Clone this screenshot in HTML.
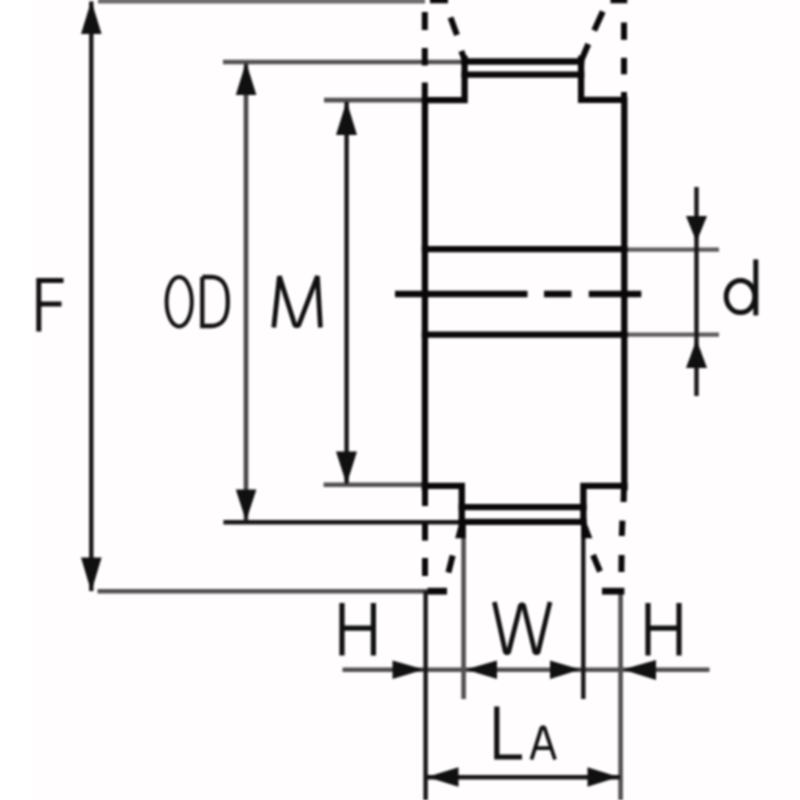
<!DOCTYPE html>
<html><head><meta charset="utf-8"><title>Pulley dimensions</title>
<style>
html,body{margin:0;padding:0;background:#fffdfe;width:800px;height:800px;overflow:hidden;font-family:"Liberation Sans",sans-serif;}
svg{display:block;position:absolute;left:-10px;top:-10px;filter:blur(0.8px);}
</style></head><body>
<svg width="820" height="820" viewBox="-10 -10 820 820">
<rect x="-10" y="-10" width="820" height="820" fill="#fffdfe"/>
<rect x="-10" y="-10" width="42" height="820" fill="#ffffff"/>
<!-- extension lines (gray) -->
<line x1="98" y1="1" x2="425" y2="1" stroke="#6a6869" stroke-width="5"/>
<g stroke="#524f51" stroke-width="4.6" fill="none">
  <line x1="97.5" y1="591.3" x2="428" y2="591.3"/>
  <line x1="223" y1="62" x2="466" y2="62"/>
  <line x1="324" y1="100.1" x2="425" y2="100.1"/>
  <line x1="323.6" y1="484.8" x2="425" y2="484.8"/>
  <line x1="463.6" y1="524" x2="463.6" y2="699"/>
  <line x1="620.6" y1="591" x2="620.6" y2="800"/>
  <line x1="342.5" y1="669.7" x2="709.5" y2="669.7"/>
</g>
<g stroke="#5e5a5c" stroke-width="4.2" fill="none">
  <line x1="626" y1="249.6" x2="719" y2="249.6"/>
  <line x1="626" y1="334.6" x2="719" y2="334.6"/>
</g>
<!-- dimension lines (dark) -->
<g stroke="#171516" stroke-width="4.4" fill="none">
  <line x1="91.3" y1="1.5" x2="91.3" y2="591"/>
  <line x1="346.6" y1="102" x2="346.6" y2="483.5"/>
  <line x1="696.5" y1="187" x2="696.5" y2="396"/>
  <line x1="425.6" y1="591" x2="425.6" y2="800"/>
  <line x1="426" y1="777.3" x2="620" y2="777.3"/>
  <line x1="223.4" y1="522.3" x2="463" y2="522.3"/>
  <line x1="583.3" y1="524" x2="583.3" y2="699"/>
</g>
<line x1="246" y1="63" x2="246" y2="520" stroke="#4a4648" stroke-width="4.6"/>
<!-- arrowheads -->
<g fill="#111011">
  <polygon points="91.3,0.5 81,34 101.6,34"/>
  <polygon points="91.3,592 81,557.5 101.6,557.5"/>
  <polygon points="246,62 235.8,95 256.4,95"/>
  <polygon points="246,521 235.8,489.6 256.4,489.6"/>
  <polygon points="346.6,101 336,135 357,135"/>
  <polygon points="346.6,484.5 336,451.5 357,451.5"/>
  <polygon points="696.5,242 686,216 707,216"/>
  <polygon points="696.5,339.6 686,368 707,368"/>
  <polygon points="424,669.6 392.5,660.5 392.5,679"/>
  <polygon points="465.6,669.6 497,660.5 497,679"/>
  <polygon points="580.4,669.6 550,660.5 550,679"/>
  <polygon points="622.7,669.6 656,660 656,680"/>
  <polygon points="427,777 458.5,767.3 458.5,786.8"/>
  <polygon points="618.6,777 587.5,767.3 587.5,786.8"/>
</g>
<!-- body (thick) -->
<g stroke="#0a0809" stroke-width="6.3" fill="none" stroke-linejoin="miter" stroke-linecap="square">
  <polyline points="424.9,487 424.9,100.2 464.6,100.2 464.6,59"/>
  <polyline points="624.3,487 624.3,99.8 581.1,99.8 581.1,59"/>
  <line x1="464.6" y1="61.5" x2="581.1" y2="61.5"/>
  <line x1="464.6" y1="74.6" x2="581.1" y2="74.6"/>
  <polyline points="424.9,487 424.9,485.8 461.8,485.8 461.8,522"/>
  <polyline points="624.3,487 624.3,485.9 583.4,485.9 583.4,522"/>
  <line x1="461.8" y1="507.2" x2="583.4" y2="507.2"/>
  <line x1="461.8" y1="521.9" x2="583.4" y2="521.9"/>
  <line x1="424.9" y1="249.2" x2="624.3" y2="249.2"/>
  <line x1="424.9" y1="334.6" x2="624.3" y2="334.6"/>
</g>
<!-- center dashed line -->
<g stroke="#0a0809" stroke-width="6.6" fill="none">
  <line x1="395" y1="294" x2="527.5" y2="294"/>
  <line x1="544" y1="294" x2="571.5" y2="294"/>
  <line x1="588.8" y1="294" x2="641.3" y2="294"/>
</g>
<!-- flange dashes -->
<g stroke="#0a0809" stroke-width="6" fill="none" stroke-linecap="butt">
  <line x1="424.8" y1="12" x2="424.8" y2="30"/>
  <line x1="424.8" y1="48" x2="424.8" y2="65.5"/>
  <line x1="424.8" y1="82.5" x2="424.8" y2="101"/>
  <line x1="425" y1="487" x2="425" y2="506"/>
  <line x1="425" y1="523" x2="425" y2="540.6"/>
  <line x1="425" y1="558" x2="425" y2="576"/>
  <line x1="624" y1="22.5" x2="624" y2="39.8"/>
  <line x1="624" y1="57.8" x2="624" y2="74.3"/>
  <line x1="624" y1="92" x2="624" y2="100"/>
  <line x1="624" y1="487" x2="623.6" y2="502"/>
  <line x1="622.4" y1="520.6" x2="621.8" y2="536"/>
  <line x1="621.6" y1="555" x2="621.4" y2="572"/>
  <line x1="430" y1="0.3" x2="448" y2="0.3"/>
  <line x1="610.5" y1="0.3" x2="627.3" y2="0.3"/>
  <line x1="427.5" y1="591.2" x2="447" y2="591.2" stroke-width="6.8"/>
  <line x1="602" y1="591.2" x2="624.4" y2="591.2" stroke-width="6.8"/>
  <line x1="450.5" y1="17.5" x2="457" y2="35"/>
  <line x1="461.3" y1="51" x2="465.5" y2="62"/>
  <line x1="602.8" y1="11.5" x2="594.2" y2="30.5"/>
  <line x1="588.3" y1="44" x2="581.5" y2="60"/>
  
  <line x1="452.7" y1="555.5" x2="448.4" y2="572.5"/>
  
  <line x1="593" y1="555" x2="600" y2="571.5"/>
</g>
<g fill="#0a0809">
  <polygon points="459.5,522 465.6,522 465.6,538.2 455.2,538.2"/>
  <polygon points="581.2,522 586.2,522 592.4,538.2 581.2,538.2"/>
</g>
<!-- letters -->
<g stroke="#111011" fill="none" stroke-linecap="butt" stroke-linejoin="miter">
  <!-- F -->
  <path d="M38.8 331.5 V280.5 H63.5 M38.8 304 H61.5" stroke-width="5"/>
  <!-- 0 -->
  <ellipse cx="179.2" cy="301.8" rx="12.6" ry="24.7" stroke-width="4"/>
  <!-- D -->
  <path d="M202.3 277 V326 H211 C224 326 227.8 316 227.8 301.5 C227.8 287 224 277 211 277 H202.3" stroke-width="4.3"/>
  <!-- M -->
  <polyline points="273.8,327.5 279.4,276.2 295,325.5 298.6,325.5 317.4,276.2 320.4,327.5" stroke-width="4.8" stroke-linejoin="bevel"/>
  <!-- d -->
  <ellipse cx="740.5" cy="296.6" rx="14.3" ry="16" stroke-width="5"/>
  <line x1="755.8" y1="259.4" x2="755.8" y2="315.4" stroke-width="5"/>
  <!-- H left -->
  <path d="M342 603 V655.6 M373.4 603 V655.6 M342 628.2 H373.4" stroke-width="5.2"/>
  <!-- W -->
  <polyline points="494.4,602 505.5,652.6 508.5,652.6 520.5,605 523.5,605 535,652.6 538,652.6 550,602" stroke-width="4.8" stroke-linejoin="bevel"/>
  <!-- H right -->
  <path d="M648 603 V655.6 M679 603 V655.6 M648 628.2 H679" stroke-width="5.2"/>
  <!-- L -->
  <path d="M496.8 706.5 V757 H522" stroke-width="5.2"/>
  <!-- A -->
  <path d="M531.5 759.5 L541.6 727.5 L544.4 727.5 L555 759.5 M536 748.2 H551" stroke-width="3.8" stroke-linejoin="bevel"/>
</g>
</svg>
</body></html>
